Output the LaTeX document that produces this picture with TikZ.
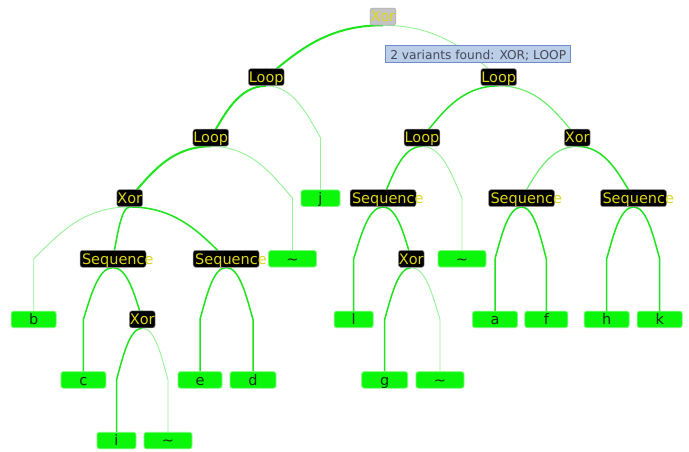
\documentclass[tikz,border=0pt]{standalone}
\usepackage{fontspec}
\newfontfamily\dejavu{DejaVu Sans}
\usetikzlibrary{calc}
\pgfdeclarelayer{background}
\pgfsetlayers{background,main}

\definecolor{opyellow}{RGB}{222,214,24}
\definecolor{rootgray}{RGB}{196,196,196}
\definecolor{leafgreen}{RGB}{12,246,12}
\definecolor{leafrim}{RGB}{120,250,120}
\definecolor{leafink}{RGB}{16,48,16}
\definecolor{edgehi}{RGB}{30,228,30}
\definecolor{edgesoft}{RGB}{110,236,110}
\definecolor{edgelo}{RGB}{150,242,150}
\definecolor{tipfill}{RGB}{186,206,232}
\definecolor{tipdraw}{RGB}{110,140,200}
\definecolor{tipink}{RGB}{70,72,90}

% parent-to-child connector: arc from the parent's bottom to the next row,
% then straight down to the child
\newcommand\ptlink[3]{%
  \draw[#1] let \p1=(#2.south), \p2=(#3.north),
      \p3=($(#2.center)+(0,60.57)$),
      \p4=($(\p1)!0.5!(\x2,\y1)$),
      \p5=($(\p2)!0.25!(\p1)$),
      \p6=($(\x2,\y3)!0.45!(\p1)$) in
    (\p1) .. controls (\p4) and (\x5,\y6) .. (\x2,\y3) -- (\p2);}

\begin{document}
\begin{tikzpicture}[x=1pt,y=-1pt,
  nodefont/.style={font=\dejavu\fontsize{14.5}{16}\selectfont},
  op/.style={nodefont, rounded corners=2.5pt, fill=black, draw=black!40,
    line width=0.5pt, text=opyellow, inner xsep=0.5pt, inner ysep=0pt,
    minimum height=17pt, text height=12.4pt, text depth=1.8pt},
  rootop/.style={op, fill=rootgray, draw=rootgray!85!black},
  seq/.style={inner xsep=2pt},
  leaf/.style={nodefont, rounded corners=2.5pt, fill=leafgreen, draw=leafrim,
    line width=0.8pt, text=leafink, inner sep=0pt, minimum width=45pt,
    minimum height=16.5pt, text height=12.4pt, text depth=1.8pt},
  narrowleaf/.style={leaf, minimum width=39pt},
  tauleaf/.style={leaf, minimum width=48pt},
  hi/.style={draw=edgehi, line width=2pt},
  md/.style={draw=edgehi, line width=1.5pt},
  soft/.style={draw=edgesoft, line width=1.2pt},
  lo/.style={draw=edgelo, line width=0.9pt},
  tip/.style={font=\dejavu\fontsize{12.2}{14}\selectfont, fill=tipfill,
    draw=tipdraw, line width=0.8pt, text=tipink, inner xsep=4.5pt,
    inner ysep=0pt, minimum height=17.5pt, text height=11pt, text depth=1pt}
]
\useasboundingbox (0,0) rectangle (689,451);

% operators
\node[rootop] (root) at (383,16.5) {Xor};
\node[op] (L1) at (266.3,77.1) {Loop};
\node[op] (R1) at (498.7,77.1) {Loop};
\node[op] (L2) at (210.8,137.6) {Loop};
\node[op] (R2) at (422,137.6) {Loop};
\node[op] (X2) at (577.3,137.6) {Xor};
\node[op] (X3) at (129.7,198.2) {Xor};
\node[op,seq] (S3) at (383,198.2) {\makebox[62pt][l]{Sequence}};
\node[op,seq] (S3b) at (521.5,198.2) {\makebox[62pt][l]{Sequence}};
\node[op,seq] (S3c) at (633.5,198.2) {\makebox[62pt][l]{Sequence}};
\node[op,seq] (S4a) at (113,258.8) {\makebox[62pt][l]{Sequence}};
\node[op,seq] (S4b) at (226.2,258.8) {\makebox[62pt][l]{Sequence}};
\node[op] (X4) at (411.3,258.8) {Xor};
\node[op] (X5) at (142.3,319.4) {Xor};

% leaves
\node[narrowleaf] (j) at (320.5,198.2) {j};
\node[tauleaf] (t2) at (292.5,258.8) {\char"7E};
\node[tauleaf] (t4) at (462,258.8) {\char"7E};
\node[leaf] (b) at (33.7,319.4) {b};
\node[narrowleaf] (l) at (353.7,319.4) {l};
\node[leaf] (a) at (495,319.4) {a};
\node[leaf, minimum width=43pt] (f) at (546.3,319.4) {f};
\node[leaf] (h) at (606.7,319.4) {h};
\node[leaf] (k) at (659.7,319.4) {k};
\node[leaf] (c) at (83.4,379.9) {c};
\node[leaf, minimum width=44pt] (e) at (200,379.9) {e};
\node[leaf, minimum width=46pt] (d) at (253,379.9) {d};
\node[leaf, minimum width=46pt] (g) at (384.7,379.9) {g};
\node[tauleaf] (t3) at (440,379.9) {\char"7E};
\node[narrowleaf] (i) at (116.5,440.5) {i};
\node[tauleaf] (t1) at (168,440.5) {\char"7E};

% hint box
\node[tip] (hint) at (478.2,54) {2 variants found: XOR; LOOP};

\begin{pgfonlayer}{background}
  \fill[white] (0,0) rectangle (689,451);
  \ptlink{hi}{root}{L1}
  \ptlink{lo}{root}{R1}
  \ptlink{hi}{L1}{L2}
  \ptlink{lo}{L1}{j}
  \ptlink{hi}{L2}{X3}
  \ptlink{lo}{L2}{t2}
  \ptlink{lo}{X3}{b}
  \ptlink{md}{X3}{S4a}
  \ptlink{md}{X3}{S4b}
  \ptlink{md}{S4a}{c}
  \ptlink{md}{S4a}{X5}
  \ptlink{md}{X5}{i}
  \ptlink{lo}{X5}{t1}
  \ptlink{md}{S4b}{e}
  \ptlink{md}{S4b}{d}
  \ptlink{md}{R1}{R2}
  \ptlink{soft}{R1}{X2}
  \ptlink{md}{R2}{S3}
  \ptlink{lo}{R2}{t4}
  \ptlink{md}{S3}{l}
  \ptlink{md}{S3}{X4}
  \ptlink{md}{X4}{g}
  \ptlink{lo}{X4}{t3}
  \ptlink{soft}{X2}{S3b}
  \ptlink{md}{X2}{S3c}
  \ptlink{md}{S3b}{a}
  \ptlink{md}{S3b}{f}
  \ptlink{md}{S3c}{h}
  \ptlink{md}{S3c}{k}
\end{pgfonlayer}
\end{tikzpicture}
\end{document}
